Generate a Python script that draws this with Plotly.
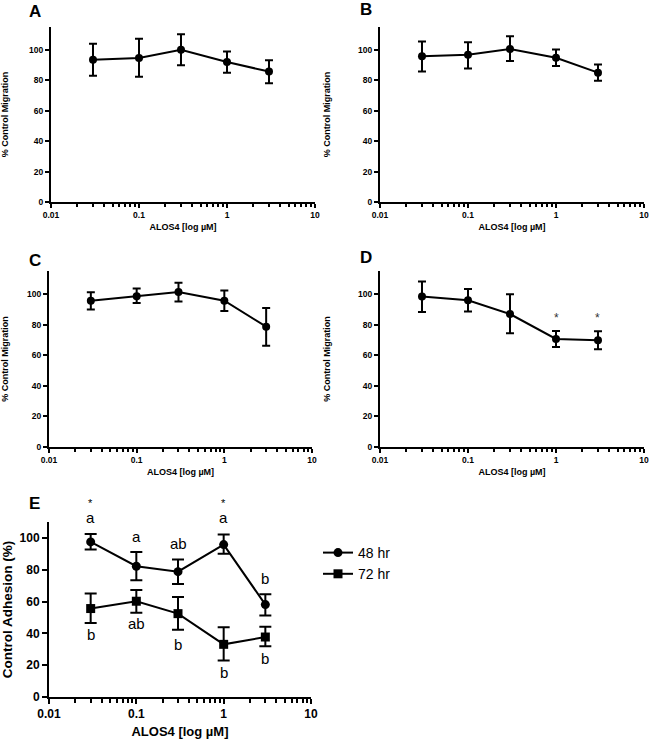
import math
import plotly.graph_objects as go

# concentrations (uM)
conc = [0.03, 0.1, 0.3, 1, 3]

# migration panels A-D: mean and error (upper / lower)
mig_a = [93.5, 94.7, 100, 92, 85.7]
mig_a_up = [10.5, 12.5, 10.2, 6.9, 7.5]
mig_a_dn = [10.5, 12.4, 10.1, 7.0, 7.6]

mig_b = [95.8, 96.8, 100.6, 94.8, 85]
mig_b_up = [9.6, 8.2, 8.3, 5.4, 5.4]
mig_b_dn = [10.0, 9.0, 8.0, 5.5, 5.3]

mig_c = [95.6, 98.5, 101.3, 95.6, 78.6]
mig_c_up = [5.5, 5.0, 6.1, 6.6, 12.2]
mig_c_dn = [5.8, 4.4, 6.3, 6.7, 12.4]

mig_d = [98.3, 95.9, 86.9, 70.6, 69.7]
mig_d_up = [9.8, 7.4, 12.9, 5.2, 5.9]
mig_d_dn = [10.1, 7.4, 12.6, 5.2, 5.9]
stars_d = ['', '', '', '*', '*']

# adhesion panel E
adh_48 = [97.5, 82.2, 78.8, 95.8, 58.1]
adh_48_up = [5.0, 9.0, 7.6, 6.3, 6.5]
adh_48_dn = [4.8, 8.8, 7.7, 5.7, 6.9]
adh_72 = [55.6, 60.2, 52.4, 33.1, 37.7]
adh_72_up = [9.4, 7.1, 10.5, 10.7, 6.5]
adh_72_dn = [9.1, 7.2, 10.1, 10.2, 5.8]
top_48 = ['a', 'a', 'ab', 'a', 'b']
top_48_y = [112.6, 100.6, 96.2, 112.6, 74.8]
star_48 = ['*', '', '', '*', '']
bot_72 = ['b', 'ab', 'b', 'b', 'b']
bot_72_y = [39.6, 45.9, 33.3, 15.7, 24.5]

W, H = 650, 741
FONT = 'Liberation Sans, Arial, sans-serif'
E_TOP = 110
E_PX = 175 / E_TOP  # pixels per unit on panel E y axis

fig = go.Figure()


def px_x(p):
    return p / W


def px_y(p):
    return 1 - p / H


def add_series(y, up, dn, ax, sym='circle', size=8, cap=4, name=None, legend=False):
    fig.add_trace(go.Scatter(
        x=conc, y=y, mode='lines+markers', name=name, showlegend=legend,
        xaxis='x' + ax, yaxis='y' + ax,
        line=dict(color='black', width=2),
        marker=dict(symbol=sym, size=size, color='black'),
        error_y=dict(type='data', array=up, arrayminus=dn, color='black',
                     thickness=2, width=cap),
        cliponaxis=False,
    ))


add_series(mig_a, mig_a_up, mig_a_dn, '')
add_series(mig_b, mig_b_up, mig_b_dn, '2')
add_series(mig_c, mig_c_up, mig_c_dn, '3')
add_series(mig_d, mig_d_up, mig_d_dn, '4')
add_series(adh_48, adh_48_up, adh_48_dn, '5', 'circle', 9, 6, '48 hr', True)
add_series(adh_72, adh_72_up, adh_72_dn, '5', 'square', 9, 6, '72 hr', True)

# significance stars in D (annotation x on a log axis is log10)
for xv, s in zip(conc, stars_d):
    if s:
        fig.add_annotation(text=s, x=math.log10(xv), y=84.5, xref='x4', yref='y4',
                           showarrow=False, font=dict(family=FONT, size=12, color='#333'))


def e_label(xv, yv, text, size):
    # annotations beyond the axis range are hidden, so clamp and shift in pixels
    ya = min(yv, 100)
    fig.add_annotation(text=text, x=math.log10(xv), y=ya, yshift=(yv - ya) * E_PX,
                       xref='x5', yref='y5', showarrow=False,
                       font=dict(family=FONT, size=size, color='black'))


# letters in E (above 48 hr, below 72 hr)
for xv, s, yv, st in zip(conc, top_48, top_48_y, star_48):
    e_label(xv, yv, s, 15)
    if st:
        e_label(xv, yv + 9.5, st, 11)
for xv, s, yv in zip(conc, bot_72, bot_72_y):
    e_label(xv, yv, s, 15)

minor_vals = [m * d for d in (0.01, 0.1, 1) for m in range(2, 10)]


def xaxis(x0, x1, y_anchor, small=True):
    return dict(
        type='log', range=[-2, 1], domain=[px_x(x0), px_x(x1)], anchor=y_anchor,
        automargin=False,
        tickvals=[0.01, 0.1, 1, 10], ticktext=['0.01', '0.1', '1', '10'],
        showline=True, linecolor='black', linewidth=2, showgrid=False, zeroline=False,
        ticks='outside', ticklen=4 if small else 5, tickwidth=2, tickcolor='black',
        minor=dict(tickvals=minor_vals, ticks='outside', ticklen=3 if small else 4,
                   tickwidth=1.5, tickcolor='black', showgrid=False),
        tickfont=dict(family=FONT, size=8.5 if small else 12, color='black', weight='bold'),
        title=dict(text='ALOS4 [log µM]', standoff=4 if small else 6,
                   font=dict(family=FONT, size=9 if small else 13, color='black', weight='bold')),
    )


def yaxis(yb, yt, x_anchor, top, title, small=True):
    return dict(
        range=[0, top], domain=[px_y(yb), px_y(yt)], anchor=x_anchor,
        automargin=False,
        tickvals=[0, 20, 40, 60, 80, 100],
        showline=True, linecolor='black', linewidth=2, showgrid=False, zeroline=False,
        ticks='outside', ticklen=4 if small else 5, tickwidth=2, tickcolor='black',
        tickfont=dict(family=FONT, size=8.5 if small else 12, color='black', weight='bold'),
        title=dict(text=title, standoff=26 if small else 18,
                   font=dict(family=FONT, size=9 if small else 13.5, color='black', weight='bold')),
    )


mig_title = '% Control Migration'
fig.update_layout(
    width=W, height=H, margin=dict(l=0, r=0, t=0, b=0, autoexpand=False),
    plot_bgcolor='white', paper_bgcolor='white',
    xaxis=xaxis(51, 315, 'y'), yaxis=yaxis(202, 27, 'x', 115, mig_title),
    xaxis2=xaxis(380, 644, 'y2'), yaxis2=yaxis(202, 27, 'x2', 115, mig_title),
    xaxis3=xaxis(49, 312, 'y3'), yaxis3=yaxis(447, 271, 'x3', 115, mig_title),
    xaxis4=xaxis(380, 644, 'y4'), yaxis4=yaxis(447, 271, 'x4', 115, mig_title),
    xaxis5=xaxis(49, 311, 'y5', small=False),
    yaxis5=yaxis(697, 522, 'x5', E_TOP, 'Control Adhesion (%)', small=False),
    legend=dict(x=px_x(318), y=px_y(537), xanchor='left', yanchor='top',
                font=dict(family=FONT, size=14, color='black'),
                bgcolor='rgba(0,0,0,0)', itemwidth=30, tracegroupgap=0),
    showlegend=True,
)

for letter, lx, ly in [('A', 27, 11), ('B', 358, 9), ('C', 27, 260), ('D', 358, 258), ('E', 27, 503)]:
    fig.add_annotation(text=letter, x=px_x(lx), y=px_y(ly), xref='paper', yref='paper',
                       xanchor='left', yanchor='middle', showarrow=False,
                       font=dict(family=FONT, size=17, color='black', weight='bold'))

# drop the default page margin so the figure sits at the window's top-left corner
fig.write_html('out.html', config={'displayModeBar': False},
               post_script="document.body.style.margin='0';")
